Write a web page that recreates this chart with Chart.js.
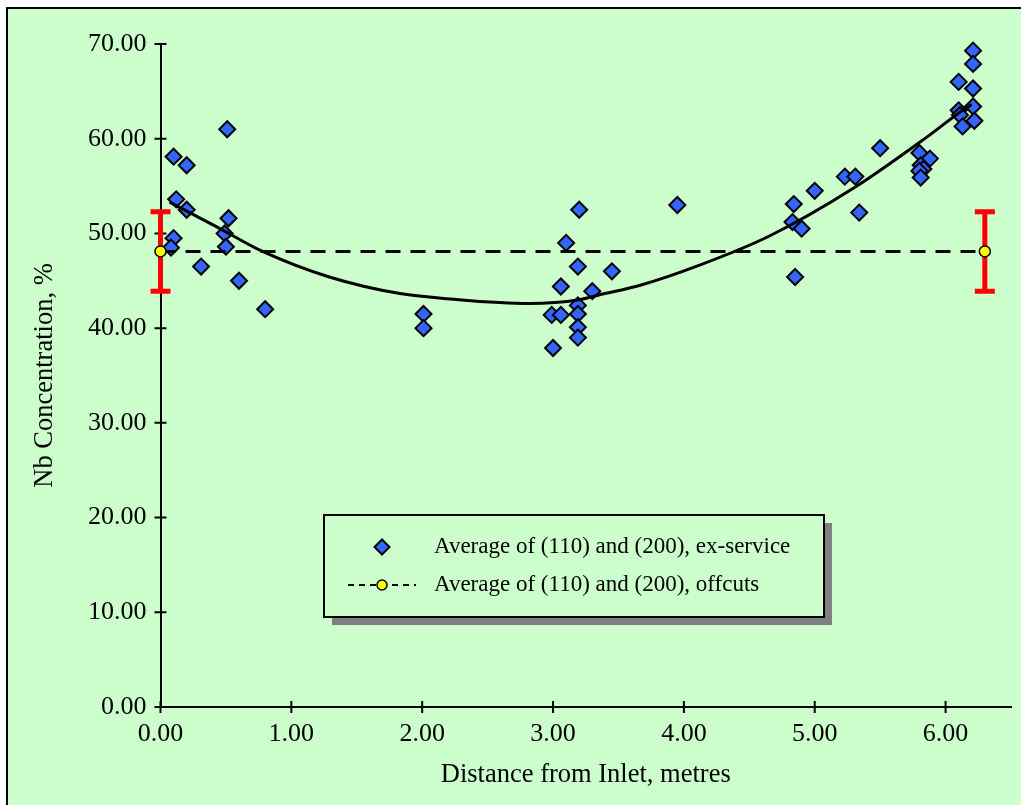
<!DOCTYPE html>
<html>
<head>
<meta charset="utf-8">
<title>Nb Concentration vs Distance from Inlet</title>
<script src="https://cdn.jsdelivr.net/npm/chart.js@4.4.1/dist/chart.umd.min.js"></script>
<style>
  html, body { margin: 0; padding: 0; background: #ffffff; overflow: hidden; }
  #wrap { width: 1021px; height: 805px; }
  #nbChart { display: block; }
</style>
</head>
<body>
<div id="wrap"><canvas id="nbChart" width="1021" height="805"></canvas></div>
<script>
// ex-service samples: distance from inlet (m) and Nb concentration (%)
const exX = [
  0.10, 0.20, 0.51, 0.12, 0.20, 0.52, 0.10, 0.08, 0.49, 0.50, 0.31, 0.60, 0.80,
  2.01, 2.01,
  3.20, 3.10, 3.19, 3.45, 3.06, 3.30, 3.19, 2.99, 3.06, 3.19, 3.19, 3.19, 3.00, 3.95,
  5.50, 5.80, 5.88, 5.81, 5.83, 5.80, 5.81, 5.23, 5.31, 5.00, 4.84, 5.34, 4.83, 4.90, 4.85,
  6.21, 6.21, 6.10, 6.21, 6.21, 6.10, 6.11, 6.22, 6.13
];
const exY = [
  58.1, 57.2, 61.0, 53.6, 52.5, 51.6, 49.5, 48.5, 50.0, 48.6, 46.5, 45.0, 42.0,
  41.5, 40.0,
  52.5, 49.0, 46.5, 46.0, 44.4, 43.9, 42.4, 41.4, 41.4, 41.5, 40.1, 39.0, 37.9, 53.0,
  59.0, 58.5, 57.9, 57.2, 56.8, 56.6, 55.9, 56.0, 56.0, 54.5, 53.1, 52.2, 51.2, 50.5, 45.4,
  69.3, 67.9, 66.0, 65.3, 63.4, 63.0, 62.5, 61.9, 61.3
];

// fitted trend through the ex-service data
const fitX = [0.07, 0.43, 0.78, 1.29, 1.83, 2.28, 2.59, 2.82, 3.20, 3.35, 3.66, 4.11, 4.65, 5.31, 5.87, 6.15, 6.20];
const fitY = [53.3, 50.7, 48.1, 45.4, 43.65, 43.0, 42.7, 42.6, 43.0, 43.5, 44.5, 46.6, 49.7, 54.9, 60.3, 63.2, 63.6];

// offcut average with its spread
const offX = [0.00, 6.30];
const offY = [48.1, 48.1];
const offErr = [4.2, 4.2];

const xTicks = [0, 1, 2, 3, 4, 5, 6];
const yTicks = [0, 10, 20, 30, 40, 50, 60, 70];

const serif = "'Liberation Serif', 'Times New Roman', serif";
const blue = '#3366FF';

const toPts = (xs, ys) => xs.map((x, i) => ({ x: x, y: ys[i] }));

// page frame: white margin, green panel with a dark top/left edge
const framePlugin = {
  id: 'frame',
  beforeDraw(chart) {
    const ctx = chart.ctx;
    ctx.save();
    ctx.fillStyle = '#ffffff';
    ctx.fillRect(0, 0, chart.width, chart.height);
    ctx.fillStyle = '#CCFFCC';
    ctx.fillRect(7, 8, chart.width, chart.height);
    ctx.strokeStyle = '#000000';
    ctx.lineWidth = 2;
    ctx.beginPath();
    ctx.moveTo(7, chart.height);
    ctx.lineTo(7, 8);
    ctx.lineTo(chart.width, 8);
    ctx.stroke();
    ctx.restore();
  }
};

// tick marks crossing both axes, plus the red spread bars
const marksPlugin = {
  id: 'marks',
  beforeDatasetsDraw(chart) {
    const ctx = chart.ctx;
    const xs = chart.scales.x, ys = chart.scales.y;
    const area = chart.chartArea;
    ctx.save();
    ctx.strokeStyle = '#000000';
    ctx.lineWidth = 2;
    ctx.beginPath();
    xTicks.forEach(v => {
      const px = xs.getPixelForValue(v);
      ctx.moveTo(px, area.bottom - 6);
      ctx.lineTo(px, area.bottom + 6);
    });
    yTicks.forEach(v => {
      const py = ys.getPixelForValue(v);
      ctx.moveTo(area.left - 6, py);
      ctx.lineTo(area.left + 6, py);
    });
    ctx.stroke();

    ctx.strokeStyle = '#FF0000';
    ctx.lineWidth = 5;
    offX.forEach((x, i) => {
      const px = xs.getPixelForValue(x);
      const top = ys.getPixelForValue(offY[i] + offErr[i]);
      const bot = ys.getPixelForValue(offY[i] - offErr[i]);
      ctx.beginPath();
      ctx.moveTo(px, top);
      ctx.lineTo(px, bot);
      ctx.moveTo(px - 10, top);
      ctx.lineTo(px + 10, top);
      ctx.moveTo(px - 10, bot);
      ctx.lineTo(px + 10, bot);
      ctx.stroke();
    });
    ctx.restore();
  }
};

// boxed legend with a drop shadow inside the plot
const legendPlugin = {
  id: 'boxLegend',
  afterDraw(chart) {
    const ctx = chart.ctx;
    const bx = 324, by = 515, bw = 500, bh = 102;
    ctx.save();
    ctx.fillStyle = '#808080';
    ctx.fillRect(bx + 8, by + 8, bw, bh);
    ctx.fillStyle = '#CCFFCC';
    ctx.fillRect(bx, by, bw, bh);
    ctx.strokeStyle = '#000000';
    ctx.lineWidth = 2;
    ctx.strokeRect(bx, by, bw, bh);

    const r1 = 547, r2 = 585, mx = 382;
    // diamond marker
    ctx.beginPath();
    ctx.moveTo(mx, r1 - 7.5);
    ctx.lineTo(mx + 7.5, r1);
    ctx.lineTo(mx, r1 + 7.5);
    ctx.lineTo(mx - 7.5, r1);
    ctx.closePath();
    ctx.fillStyle = blue;
    ctx.fill();
    ctx.lineWidth = 2;
    ctx.stroke();
    // dashed line with circle
    ctx.setLineDash([6, 5]);
    ctx.beginPath();
    ctx.moveTo(348, r2);
    ctx.lineTo(416, r2);
    ctx.stroke();
    ctx.setLineDash([]);
    ctx.beginPath();
    ctx.arc(mx, r2, 5, 0, Math.PI * 2);
    ctx.fillStyle = '#FFFF00';
    ctx.fill();
    ctx.lineWidth = 1.5;
    ctx.stroke();

    ctx.fillStyle = '#000000';
    ctx.font = '23px ' + serif;
    ctx.textBaseline = 'middle';
    ctx.textAlign = 'left';
    ctx.fillText(chart.data.datasets[2].label, 434, r1);
    ctx.fillText(chart.data.datasets[0].label, 434, r2);
    ctx.restore();
  }
};

new Chart(document.getElementById('nbChart'), {
  type: 'scatter',
  data: {
    datasets: [
      {
        label: 'Average of (110) and (200), offcuts',
        data: toPts(offX, offY),
        showLine: true,
        borderColor: '#000000',
        borderWidth: 3,
        borderDash: [15, 10],
        pointStyle: 'circle',
        pointRadius: 5.5,
        pointBackgroundColor: '#FFFF00',
        pointBorderColor: '#000000',
        pointBorderWidth: 1.5,
        clip: false
      },
      {
        label: 'fit',
        data: toPts(fitX, fitY),
        showLine: true,
        borderColor: '#000000',
        borderWidth: 3,
        pointRadius: 0,
        cubicInterpolationMode: 'monotone'
      },
      {
        label: 'Average of (110) and (200), ex-service',
        data: toPts(exX, exY),
        pointStyle: 'rectRot',
        pointRadius: 8,
        pointBackgroundColor: blue,
        pointBorderColor: '#000000',
        pointBorderWidth: 2,
        clip: false
      }
    ]
  },
  options: {
    responsive: false,
    animation: false,
    layout: { padding: { top: 44, right: 6, left: 0, bottom: 0 } },
    plugins: {
      legend: { display: false },
      tooltip: { enabled: false }
    },
    scales: {
      x: {
        type: 'linear',
        position: 'bottom',
        min: 0,
        max: 6.5,
        afterBuildTicks: s => { s.ticks = xTicks.map(v => ({ value: v })); },
        afterFit: s => { s.height = 98; },
        grid: { display: false, drawTicks: false },
        border: { display: true, color: '#000000', width: 2 },
        ticks: {
          color: '#000000',
          padding: 12,
          maxRotation: 0,
          font: { family: serif, size: 26 },
          callback: v => Number(v).toFixed(2)
        },
        title: {
          display: true,
          text: 'Distance from Inlet, metres',
          color: '#000000',
          font: { family: serif, size: 26.5 },
          padding: { top: 0, bottom: 14 }
        }
      },
      y: {
        type: 'linear',
        min: 0,
        max: 70,
        afterBuildTicks: s => { s.ticks = yTicks.map(v => ({ value: v })); },
        afterFit: s => { s.width = 160.5; },
        grid: { display: false, drawTicks: false },
        border: { display: true, color: '#000000', width: 2 },
        ticks: {
          color: '#000000',
          padding: 14,
          font: { family: serif, size: 26 },
          callback: v => Number(v).toFixed(2)
        },
        title: {
          display: true,
          text: 'Nb Concentration, %',
          color: '#000000',
          font: { family: serif, size: 26.5 },
          padding: { top: 29, bottom: 0 }
        }
      }
    }
  },
  plugins: [framePlugin, marksPlugin, legendPlugin]
});
</script>
</body>
</html>
